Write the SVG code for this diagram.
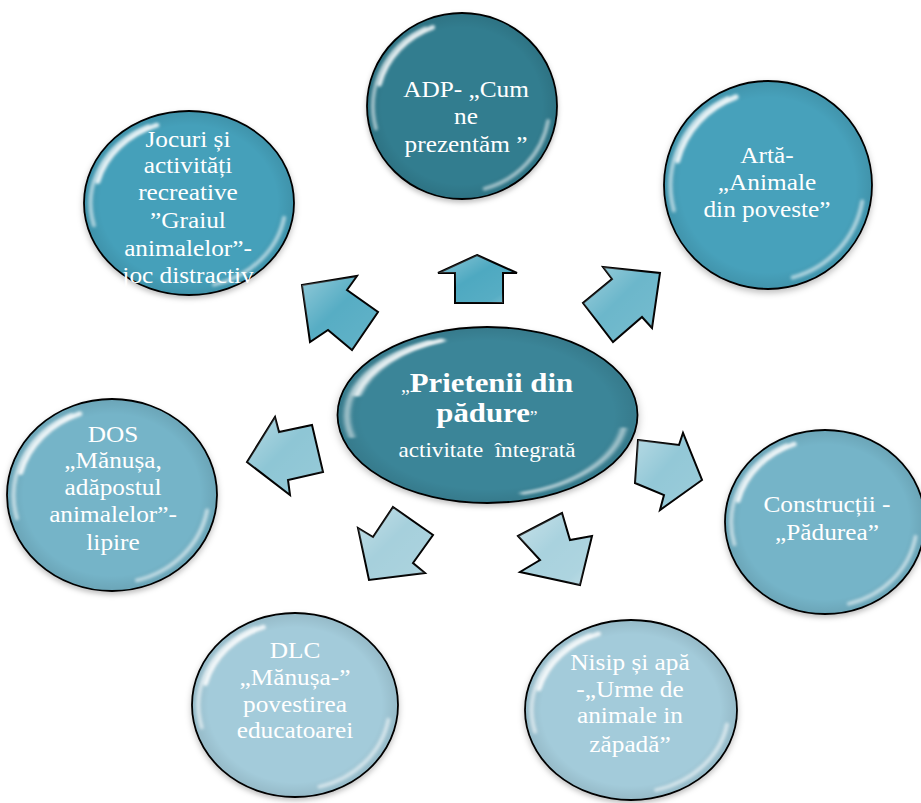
<svg xmlns="http://www.w3.org/2000/svg" xmlns:xlink="http://www.w3.org/1999/xlink" width="921" height="803" viewBox="0 0 921 803">
  <style>
    .t { font-family: "Liberation Serif", "Times New Roman", serif; font-size: 23px; fill: #ffffff; text-anchor: middle; }
    .ct { font-family: "Liberation Serif", "Times New Roman", serif; fill: #ffffff; text-anchor: middle; white-space: pre; }
    .arr { stroke: #000000; stroke-width: 2; stroke-linejoin: miter; }
    .gl { fill: url(#gloss); stroke: none; }
  </style>
  <defs>
    <filter id="shadow" x="-20%" y="-20%" width="140%" height="150%">
      <feDropShadow dx="0" dy="3" stdDeviation="3" flood-color="#000000" flood-opacity="0.25"/>
    </filter>
    <filter id="soft" x="-30%" y="-30%" width="160%" height="160%">
      <feGaussianBlur stdDeviation="1.5"/>
    </filter>
    <radialGradient id="rim" cx="50%" cy="50%" r="50%">
      <stop offset="0.85" stop-color="#000000" stop-opacity="0"/>
      <stop offset="1" stop-color="#000000" stop-opacity="0.08"/>
    </radialGradient>
    <linearGradient id="gloss" x1="0" y1="0" x2="1" y2="1">
      <stop offset="0" stop-color="#ffffff" stop-opacity="0.35"/>
      <stop offset="0.45" stop-color="#ffffff" stop-opacity="0"/>
      <stop offset="0.8" stop-color="#ffffff" stop-opacity="0.05"/>
      <stop offset="1" stop-color="#ffffff" stop-opacity="0.3"/>
    </linearGradient>
    <g id="bead">
      <circle r="100" fill="currentColor" stroke="#000000" stroke-width="1.8" vector-effect="non-scaling-stroke" filter="url(#shadow)"/>
      <circle r="99" fill="url(#rim)"/>
      <path d="M -90.6 24.3 A 92 92 0 0 1 -38.9 -83.4" fill="none" stroke="#ffffff" stroke-width="4" stroke-linecap="round" opacity="0.55" filter="url(#soft)"/>
      <path d="M -86.9 -23.3 A 90 90 0 0 1 -30.8 -84.6" fill="none" stroke="#ffffff" stroke-width="5" stroke-linecap="round" opacity="0.85" filter="url(#soft)"/>
      <path d="M 90.6 16 A 92 92 0 0 1 23.8 88.9" fill="none" stroke="#ffffff" stroke-width="4" stroke-linecap="round" opacity="0.55" filter="url(#soft)"/>
    </g>
  </defs>

  <g id="connectors">
    <g id="arrow-top">
      <polygon class="arr" fill="#4ea9c1" points="477,255 517,273 503,273 503,303 455,303 455,273 438,273"/>
      <polygon class="gl" points="477,255 517,273 503,273 503,303 455,303 455,273 438,273"/>
    </g>
    <g id="arrow-topleft">
      <polygon class="arr" fill="#57adc4" points="302,285 357,276 347,290 378,312 352,350 328,330 310,342"/>
      <polygon class="gl" points="302,285 357,276 347,290 378,312 352,350 328,330 310,342"/>
    </g>
    <g id="arrow-topright">
      <polygon class="arr" fill="#6cb7cb" points="603,267 660,273 652,328 642,317 613,342 583,303 612,279"/>
      <polygon class="gl" points="603,267 660,273 652,328 642,317 613,342 583,303 612,279"/>
    </g>
    <g id="arrow-left">
      <polygon class="arr" fill="#8ec6d5" points="247,462 275,417 279,432 312,425 323,472 288,480 290,495"/>
      <polygon class="gl" points="247,462 275,417 279,432 312,425 323,472 288,480 290,495"/>
    </g>
    <g id="arrow-right">
      <polygon class="arr" fill="#93c8d7" points="638,440 679,445 683,433 702,480 660,510 664,495 635,483"/>
      <polygon class="gl" points="638,440 679,445 683,433 702,480 660,510 664,495 635,483"/>
    </g>
    <g id="arrow-bottomleft">
      <polygon class="arr" fill="#a6d0dc" points="393,507 433,535 413,563 425,573 369,580 358,528 373,537"/>
      <polygon class="gl" points="393,507 433,535 413,563 425,573 369,580 358,528 373,537"/>
    </g>
    <g id="arrow-bottomright">
      <polygon class="arr" fill="#a9d2de" points="518,536 562,513 570,540 592,536 580,585 520,572 540,560"/>
      <polygon class="gl" points="518,536 562,513 570,540 592,536 580,585 520,572 540,560"/>
    </g>
  </g>

  <g id="node-center">
    <use xlink:href="#bead" href="#bead" color="#3a8598" transform="translate(487.5,415) scale(1.5,0.88)"/>
    <g transform="translate(487,0) scale(1.1,1)">
      <text class="ct" x="0" y="392"><tspan font-size="18">„</tspan><tspan font-size="28" font-weight="bold">Prietenii din</tspan></text>
      <text class="ct" x="0" y="422"><tspan font-size="28" font-weight="bold">pădure</tspan><tspan font-size="16">”</tspan></text>
      <text class="ct" x="0" y="457" font-size="21">activitate  întegrată</text>
    </g>
  </g>

  <g id="node-adp">
    <use xlink:href="#bead" href="#bead" color="#327d8f" transform="translate(462,106) scale(0.95,0.93)"/>
    <g transform="translate(466,0) scale(1.1,1)">
      <text class="t" x="0" y="97">ADP- „Cum</text>
      <text class="t" x="0" y="124">ne</text>
      <text class="t" x="0" y="152">prezentăm ”</text>
    </g>
  </g>

  <g id="node-arta">
    <use xlink:href="#bead" href="#bead" color="#46a1bb" transform="translate(768,185) scale(1.04,1.04)"/>
    <g transform="translate(767,0) scale(1.1,1)">
      <text class="t" x="0" y="163">Artă-</text>
      <text class="t" x="0" y="190">„Animale</text>
      <text class="t" x="0" y="217">din poveste”</text>
    </g>
  </g>

  <g id="node-jocuri">
    <use xlink:href="#bead" href="#bead" color="#45a0ba" transform="translate(189,203) scale(1.05,0.92)"/>
    <g transform="translate(188,0) scale(1.1,1)">
      <text class="t" x="0" y="147">Jocuri și</text>
      <text class="t" x="0" y="173">activități</text>
      <text class="t" x="0" y="200">recreative</text>
      <text class="t" x="0" y="228">”Graiul</text>
      <text class="t" x="0" y="256">animalelor”-</text>
      <text class="t" x="0" y="283">joc distractiv</text>
    </g>
  </g>

  <g id="node-dos">
    <use xlink:href="#bead" href="#bead" color="#74b4c8" transform="translate(112,495) scale(1.05,0.96)"/>
    <g transform="translate(113,0) scale(1.1,1)">
      <text class="t" x="0" y="442">DOS</text>
      <text class="t" x="0" y="468">„Mănușa,</text>
      <text class="t" x="0" y="495">adăpostul</text>
      <text class="t" x="0" y="522">animalelor”-</text>
      <text class="t" x="0" y="550">lipire</text>
    </g>
  </g>

  <g id="node-constructii">
    <use xlink:href="#bead" href="#bead" color="#74b4c8" transform="translate(825,522) scale(1.0,0.92)"/>
    <g transform="translate(827,0) scale(1.1,1)">
      <text class="t" x="0" y="512">Construcții -</text>
      <text class="t" x="0" y="540">„Pădurea”</text>
    </g>
  </g>

  <g id="node-dlc">
    <use xlink:href="#bead" href="#bead" color="#a3cbda" transform="translate(295,705) scale(1.03,0.92)"/>
    <g transform="translate(295,0) scale(1.1,1)">
      <text class="t" x="0" y="658">DLC</text>
      <text class="t" x="0" y="685">„Mănușa-”</text>
      <text class="t" x="0" y="712">povestirea</text>
      <text class="t" x="0" y="738">educatoarei</text>
    </g>
  </g>

  <g id="node-nisip">
    <use xlink:href="#bead" href="#bead" color="#a3cbda" transform="translate(631,710) scale(1.06,0.9)"/>
    <g transform="translate(630,0) scale(1.1,1)">
      <text class="t" x="0" y="670">Nisip și apă</text>
      <text class="t" x="0" y="697">-„Urme de</text>
      <text class="t" x="0" y="723">animale in</text>
      <text class="t" x="0" y="752">zăpadă”</text>
    </g>
  </g>
</svg>
